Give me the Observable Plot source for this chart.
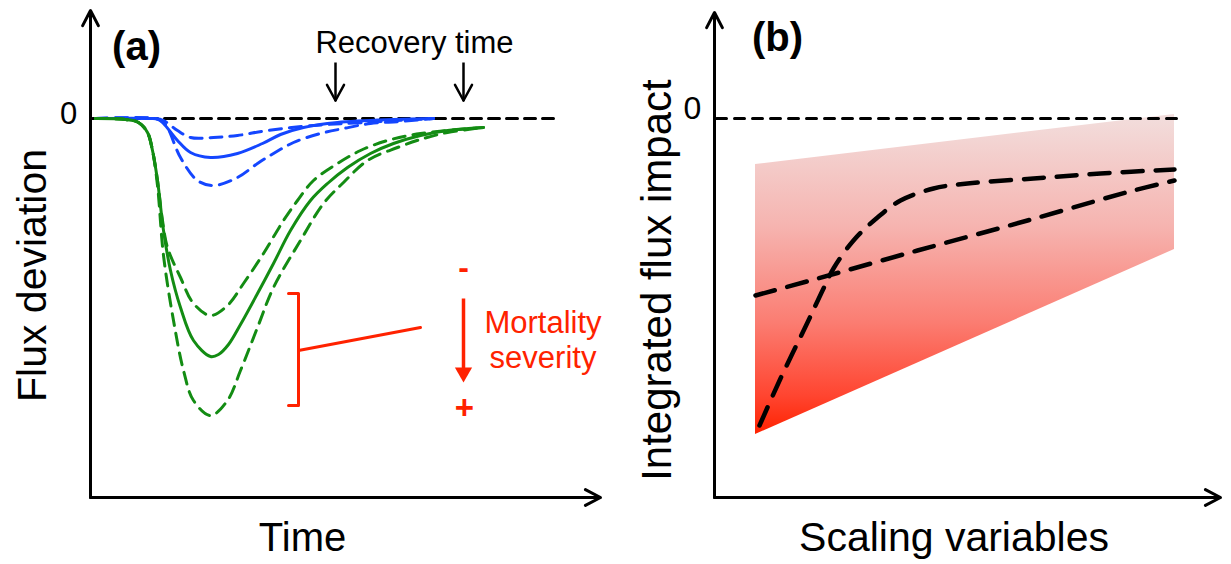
<!DOCTYPE html>
<html><head><meta charset="utf-8">
<script src="https://cdn.jsdelivr.net/npm/d3@7"></script>
<script src="https://cdn.jsdelivr.net/npm/@observablehq/plot@0.6"></script>
<style>
body{margin:0;background:#fff;}
#wrap{position:relative;width:1231px;height:564px;overflow:hidden;background:#fff;}
#wrap svg{position:absolute;top:0;}
</style></head><body><div id="wrap"></div>
<script>
// ---------- Panel (a): flux deviation vs time (conceptual units) ----------
const tBlueSolid = [1, 12, 13.6, 14.6, 17.4, 20, 24, 29.4, 34.4, 38, 42.6, 49.4, 60.6, 68.6];
const fBlueSolid = [0, 0, -0.25, -1.25, -5.5, -8.5, -9.75, -8.75, -6.25, -4, -2.25, -1, -0.25, 0];
const tBlueLow = [1, 13, 14.6, 17.4, 20, 24.6, 29.4, 35.4, 44.6, 54.6, 68.6];
const fBlueLow = [0, 0, -0.5, -3, -4.75, -4.75, -4.25, -3, -1.75, -1, 0];
const tBlueHigh = [1, 13, 14.4, 15.4, 18, 21.4, 24.6, 29.4, 33.4, 36.6, 40.6, 46, 50.6, 56, 62, 68.6];
const fBlueHigh = [0, 0, -0.75, -2.25, -9.75, -15.5, -16.75, -14.75, -11.25, -8.75, -6, -3.75, -2.5, -1.25, -0.75, 0];

const tGreenSolid = [1, 7, 9.6, 11.4, 12.4, 13.4, 14.6, 16, 18, 20.6, 24, 25.6, 27.6, 30, 33.4, 36.6, 40, 44, 47.4, 51.4, 56, 60.6, 66, 71.4, 78.6];
const fGreenSolid = [0, -0.25, -1, -3.5, -8, -15.5, -28, -38, -47.25, -55.5, -59.5, -59, -56.5, -51.5, -43.75, -36.25, -28, -20.5, -16.25, -12.25, -8.75, -6.25, -4.25, -3, -2.25];
const tGreenLow = [1, 7, 9.6, 11.4, 12.4, 13.4, 14.4, 15.4, 18, 20.6, 24, 27.4, 30.6, 34.6, 38.6, 41.4, 44.6, 49.4, 54, 59.4, 66, 78.6];
const fGreenLow = [0, -0.25, -1, -3.5, -8, -15.5, -25.5, -32.25, -39.75, -46.25, -49.25, -46.75, -41.25, -33.75, -25.5, -20.5, -15.5, -11.25, -8, -5.5, -3.75, -2.25];
const tGreenHigh = [1, 7, 9.6, 11.4, 12.4, 13.4, 14.6, 16.6, 18.6, 20.6, 24, 27.4, 30, 33.4, 36.6, 42, 46.6, 50.6, 55.4, 61.4, 66.6, 71.4, 78.6];
const fGreenHigh = [0, -0.25, -1, -3.5, -8, -16.75, -34.25, -50.5, -63, -70.5, -74.25, -70.5, -63, -52.25, -42.25, -30.5, -21.25, -16, -10.5, -7.25, -5, -3.5, -2.25];

const tZeroA = [0.4, 93];
const recoveryTimes = [49, 74.6];
const bracketT = [39.6, 41.6, 41.6, 39.6];
const bracketF = [-43.75, -43.75, -71.75, -71.75];
const connectorT = [41.6, 66];
const connectorF = [-58, -52.25];

// ---------- Panel (b): integrated flux impact vs scaling variables ----------
const sEnvelope = [8.2, 92];
const impactEnvelopeTop = [-11.5, 1];
const impactEnvelopeBottom = [-79, -32.75];
const sLinear = [8.2, 19.2, 40.6, 62.6, 83.8, 92];
const impactLinear = [-44.25, -40.5, -33, -25.5, -18, -15.5];
const sSigmoid = [9, 13.2, 18.6, 21.8, 23.8, 27.8, 32.6, 37.2, 43.8, 50.6, 63.8, 77.2, 92];
const impactSigmoid = [-76.75, -65, -51, -42.5, -37.5, -30.5, -24.75, -20.5, -17.5, -16.25, -15, -13.75, -12.75];
const sZeroB = [0.4, 93.8];

// ---------- helpers ----------
const pts = (xs, ys) => xs.map((x, i) => ({x, y: ys[i]}));
const yDomain = [-94.75, 26.5];
const fontFamily = "Liberation Sans, Arial, Helvetica, sans-serif";
const BLUE = "#1446ff", GREEN = "#138c13", RED = "#ff2200";
const lbl = (s, o) => Plot.text([s], {text: d => d, fontFamily, ...o});
// arrowhead wings for the recovery-time arrows (tip at y = 4.5)
const recoveryWings = recoveryTimes.flatMap(t => [{t, side: -1}, {t, side: 1}]);

const plotA = Plot.plot({
  width: 615, height: 564, marginLeft: 90, marginRight: 15, marginTop: 12, marginBottom: 67,
  x: {domain: [0, 102], axis: null},
  y: {domain: yDomain, axis: null},
  style: {background: "transparent", overflow: "visible", fontFamily},
  marks: [
    Plot.line(pts(tZeroA, [0, 0]), {x: "x", y: "y", stroke: "black", strokeWidth: 3, strokeDasharray: "11,7"}),
    Plot.line(pts(tBlueLow, fBlueLow), {x: "x", y: "y", stroke: BLUE, strokeWidth: 3, strokeDasharray: "12,8", curve: "catmull-rom"}),
    Plot.line(pts(tBlueHigh, fBlueHigh), {x: "x", y: "y", stroke: BLUE, strokeWidth: 3, strokeDasharray: "12,8", curve: "catmull-rom"}),
    Plot.line(pts(tBlueSolid, fBlueSolid), {x: "x", y: "y", stroke: BLUE, strokeWidth: 3, curve: "catmull-rom"}),
    Plot.line(pts(tGreenLow, fGreenLow), {x: "x", y: "y", stroke: GREEN, strokeWidth: 3, strokeDasharray: "12,8", curve: "catmull-rom"}),
    Plot.line(pts(tGreenHigh, fGreenHigh), {x: "x", y: "y", stroke: GREEN, strokeWidth: 3, strokeDasharray: "12,8", curve: "catmull-rom"}),
    Plot.line(pts(tGreenSolid, fGreenSolid), {x: "x", y: "y", stroke: GREEN, strokeWidth: 3, curve: "catmull-rom"}),
    // axes
    Plot.arrow([{x1: 0, y1: yDomain[0], x2: 0, y2: 27}, {x1: 0, y1: yDomain[0], x2: 102, y2: yDomain[0]}],
      {x1: "x1", y1: "y1", x2: "x2", y2: "y2", stroke: "black", strokeWidth: 3, headLength: 8.5, headAngle: 55}),
    // recovery arrows
    Plot.link(recoveryTimes, {x1: d => d, x2: d => d, y1: 14, y2: 4.6, stroke: "black", strokeWidth: 2.5}),
    Plot.link(recoveryWings, {x1: d => d.t, y1: 4.5, x2: d => d.t + d.side * 1.7, y2: 8.4, stroke: "black", strokeWidth: 2.5, strokeLinecap: "round"}),
    // mortality bracket
    Plot.line(pts(bracketT, bracketF), {x: "x", y: "y", stroke: RED, strokeWidth: 3}),
    Plot.line(pts(connectorT, connectorF), {x: "x", y: "y", stroke: RED, strokeWidth: 3}),
    Plot.link([74.6], {x1: d => d, x2: d => d, y1: -45, y2: -63, stroke: RED, strokeWidth: 3.5}),
    Plot.dot([74.6], {x: d => d, y: -63.5, symbol: "triangle", r: 6.4, rotate: 180, fill: RED, stroke: "none"}),
    // labels
    lbl("(a)", {x: 9.2, y: 14.6, fontSize: 40, fontWeight: "bold", lineAnchor: "bottom"}),
    lbl("Recovery time", {x: 64.8, y: 16.5, fontSize: 31, lineAnchor: "bottom"}),
    lbl("0", {x: -4.4, y: -1.25, fontSize: 31, lineAnchor: "bottom"}),
    lbl("Flux deviation", {x: -9, y: -39.25, fontSize: 41, rotate: -90, lineAnchor: "bottom"}),
    lbl("Time", {x: 42.4, y: -108, fontSize: 40, lineAnchor: "bottom"}),
    lbl("Mortality", {x: 90.5, y: -53.5, fontSize: 31, fill: RED, lineAnchor: "bottom"}),
    lbl("severity", {x: 90.5, y: -62.25, fontSize: 31, fill: RED, lineAnchor: "bottom"}),
    lbl("-", {x: 74.6, y: -37.25, fontSize: 32, fontWeight: "bold", fill: RED, lineAnchor: "middle"}),
    lbl("+", {x: 74.8, y: -72.5, fontSize: 33, fontWeight: "bold", fill: RED, lineAnchor: "middle"})
  ]
});
plotA.style.left = "0px";

const plotB = Plot.plot({
  width: 616, height: 564, marginLeft: 99, marginRight: 11, marginTop: 12, marginBottom: 67,
  x: {domain: [0, 101.2], axis: null},
  y: {domain: yDomain, axis: null},
  style: {background: "transparent", overflow: "visible", fontFamily},
  marks: [
    Plot.area(sEnvelope.map((s, i) => ({s, lo: impactEnvelopeBottom[i], hi: impactEnvelopeTop[i]})),
      {x1: "s", y1: "lo", y2: "hi", fill: "url(#redGrad)"}),
    Plot.line(pts(sZeroB, [0, 0]), {x: "x", y: "y", stroke: "black", strokeWidth: 3, strokeDasharray: "10,8"}),
    Plot.line(pts(sLinear, impactLinear), {x: "x", y: "y", stroke: "black", strokeWidth: 4.5, strokeDasharray: "20,13", curve: "catmull-rom"}),
    Plot.line(pts(sSigmoid, impactSigmoid), {x: "x", y: "y", stroke: "black", strokeWidth: 4.5, strokeDasharray: "20,13", curve: "catmull-rom"}),
    Plot.arrow([{x1: 0, y1: yDomain[0], x2: 0, y2: 26.5}, {x1: 0, y1: yDomain[0], x2: 101.2, y2: yDomain[0]}],
      {x1: "x1", y1: "y1", x2: "x2", y2: "y2", stroke: "black", strokeWidth: 3, headLength: 8.5, headAngle: 55}),
    lbl("(b)", {x: 12.6, y: 16.9, fontSize: 40, fontWeight: "bold", lineAnchor: "bottom"}),
    lbl("0", {x: -4.4, y: 0, fontSize: 32, lineAnchor: "bottom"}),
    lbl("Integrated flux impact", {x: -8.8, y: -40.4, fontSize: 42, rotate: -90, lineAnchor: "bottom"}),
    lbl("Scaling variables", {x: 47.9, y: -108, fontSize: 41, lineAnchor: "bottom"})
  ]
});
plotB.style.left = "615px";

// gradient definition for the envelope
const defs = d3.select(plotB).insert("defs", ":first-child");
const grad = defs.append("linearGradient").attr("id", "redGrad").attr("x1", 0).attr("y1", 0).attr("x2", 0).attr("y2", 1);
[[0, "#f2dedd"], [0.35, "#f6b4b0"], [0.65, "#fb7d72"], [0.88, "#ff4530"], [1, "#ff2200"]]
  .forEach(([o, c]) => grad.append("stop").attr("offset", o).attr("stop-color", c));

document.getElementById("wrap").append(plotA, plotB);
</script></body></html>
